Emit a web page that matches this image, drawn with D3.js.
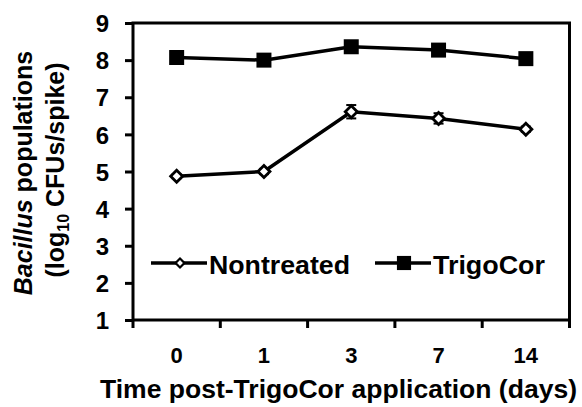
<!DOCTYPE html>
<html>
<head>
<meta charset="utf-8">
<script src="https://cdn.jsdelivr.net/npm/d3@7"></script>
<style>
  body { margin: 0; background: #fff; }
  text { font-family: "Liberation Sans", Arial, sans-serif; font-weight: bold; fill: #000; }
</style>
</head>
<body>
<div id="chart"></div>
<script>
// values
var days = ["0", "1", "3", "7", "14"]
var nontreated = [4.87, 5.00, 6.61, 6.43, 6.14]
var nontreatedErr = [0.05, 0.07, 0.18, 0.14, 0.07]
var trigocor = [8.07, 8.00, 8.36, 8.27, 8.04]
var trigocorErr = [0.08, 0.08, 0.1, 0.1, 0.08]
var yTicks = [1, 2, 3, 4, 5, 6, 7, 8, 9]

;(function() {
var W = 582, H = 407
var pL = 133, pR = 569.5, pT = 23, pB = 320

var svg = d3.select("#chart").append("svg")
    .attr("width", W).attr("height", H)

var x = d3.scaleBand().domain(days).range([pL, pR]).padding(0)
var y = d3.scaleLinear().domain([1, 9]).range([pB, pT])
var cx = function(d) { return x(d) + x.bandwidth() / 2 }

// plot frame
svg.append("rect")
    .attr("x", pL).attr("y", pT)
    .attr("width", pR - pL).attr("height", pB - pT)
    .attr("fill", "none").attr("stroke", "#000").attr("stroke-width", 3)

// y axis
var yAxis = svg.append("g")
    .attr("transform", "translate(" + pL + ",0)")
    .call(d3.axisLeft(y).tickValues(yTicks).tickSize(8).tickPadding(16).tickFormat(d3.format("d")))
yAxis.select(".domain").remove()
yAxis.selectAll(".tick line").attr("stroke", "#000").attr("stroke-width", 3)
yAxis.selectAll(".tick text").style("font-size", "24px").attr("dy", "0.36em")

// x axis: ticks sit between the categories
var bounds = days.map(function(d) { return x(d) }).concat([pR])
svg.append("g").selectAll("line")
    .data(bounds).join("line")
    .attr("x1", function(d) { return d }).attr("x2", function(d) { return d })
    .attr("y1", pB).attr("y2", pB + 8)
    .attr("stroke", "#000").attr("stroke-width", 3)
svg.append("g").selectAll("text")
    .data(days).join("text")
    .attr("x", cx).attr("y", 363)
    .attr("text-anchor", "middle")
    .style("font-size", "22px")
    .text(function(d) { return d })

var line = d3.line()
    .x(function(d, i) { return cx(days[i]) })
    .y(function(d) { return y(d) })

function series(vals, errs, size, hollow) {
    var g = svg.append("g")
    g.append("path").datum(vals)
        .attr("d", line)
        .attr("fill", "none").attr("stroke", "#000").attr("stroke-width", 3.5)
    var eb = g.append("g").selectAll("g").data(vals).join("g")
    eb.append("line")
        .attr("x1", function(d, i) { return cx(days[i]) }).attr("x2", function(d, i) { return cx(days[i]) })
        .attr("y1", function(d, i) { return y(d + errs[i]) }).attr("y2", function(d, i) { return y(d - errs[i]) })
        .attr("stroke", "#000").attr("stroke-width", 2)
    ;[1, -1].forEach(function(s) {
        eb.append("line")
            .attr("x1", function(d, i) { return cx(days[i]) - 5 }).attr("x2", function(d, i) { return cx(days[i]) + 5 })
            .attr("y1", function(d, i) { return y(d + s * errs[i]) }).attr("y2", function(d, i) { return y(d + s * errs[i]) })
            .attr("stroke", "#000").attr("stroke-width", 2)
    })
    g.append("g").selectAll("path").data(vals).join("path")
        .attr("d", d3.symbol().type(d3.symbolSquare).size(size))
        .attr("transform", function(d, i) {
            return "translate(" + cx(days[i]) + "," + y(d) + ")" + (hollow ? " rotate(45)" : "")
        })
        .attr("fill", hollow ? "#fff" : "#000")
        .attr("stroke", "#000").attr("stroke-width", hollow ? 2.8 : 0)
}

series(nontreated, nontreatedErr, 72, true)
series(trigocor, trigocorErr, 225, false)

// legend
var ly = 263
var leg = svg.append("g")
leg.append("line").attr("x1", 151).attr("x2", 207).attr("y1", ly).attr("y2", ly)
    .attr("stroke", "#000").attr("stroke-width", 3.5)
leg.append("path").attr("d", d3.symbol().type(d3.symbolSquare).size(40))
    .attr("transform", "translate(180," + ly + ") rotate(45)")
    .attr("fill", "#fff").attr("stroke", "#000").attr("stroke-width", 2.2)
leg.append("text").attr("x", 209).attr("y", ly + 11)
    .style("font-size", "25px").attr("textLength", 141).attr("lengthAdjust", "spacingAndGlyphs")
    .text("Nontreated")
leg.append("line").attr("x1", 375).attr("x2", 431).attr("y1", ly).attr("y2", ly)
    .attr("stroke", "#000").attr("stroke-width", 3.5)
leg.append("path").attr("d", d3.symbol().type(d3.symbolSquare).size(200))
    .attr("transform", "translate(404," + ly + ")")
    .attr("fill", "#000")
leg.append("text").attr("x", 433).attr("y", ly + 11)
    .style("font-size", "25px").attr("textLength", 112).attr("lengthAdjust", "spacingAndGlyphs")
    .text("TrigoCor")

// axis titles
svg.append("text").attr("x", 100).attr("y", 398)
    .style("font-size", "25px").attr("textLength", 477).attr("lengthAdjust", "spacingAndGlyphs")
    .text("Time post-TrigoCor application (days)")

var t1 = svg.append("text").attr("transform", "translate(32,173) rotate(-90)")
    .attr("text-anchor", "middle").style("font-size", "25px")
t1.append("tspan").style("font-style", "italic").text("Bacillus")
t1.append("tspan").text(" populations")

var t2 = svg.append("text").attr("transform", "translate(64,170) rotate(-90)")
    .attr("text-anchor", "middle").style("font-size", "25px")
t2.append("tspan").text("(log")
t2.append("tspan").style("font-size", "16px").attr("dy", 5).text("10")
t2.append("tspan").attr("dy", -5).text(" CFUs/spike)")
})()
</script>
</body>
</html>
